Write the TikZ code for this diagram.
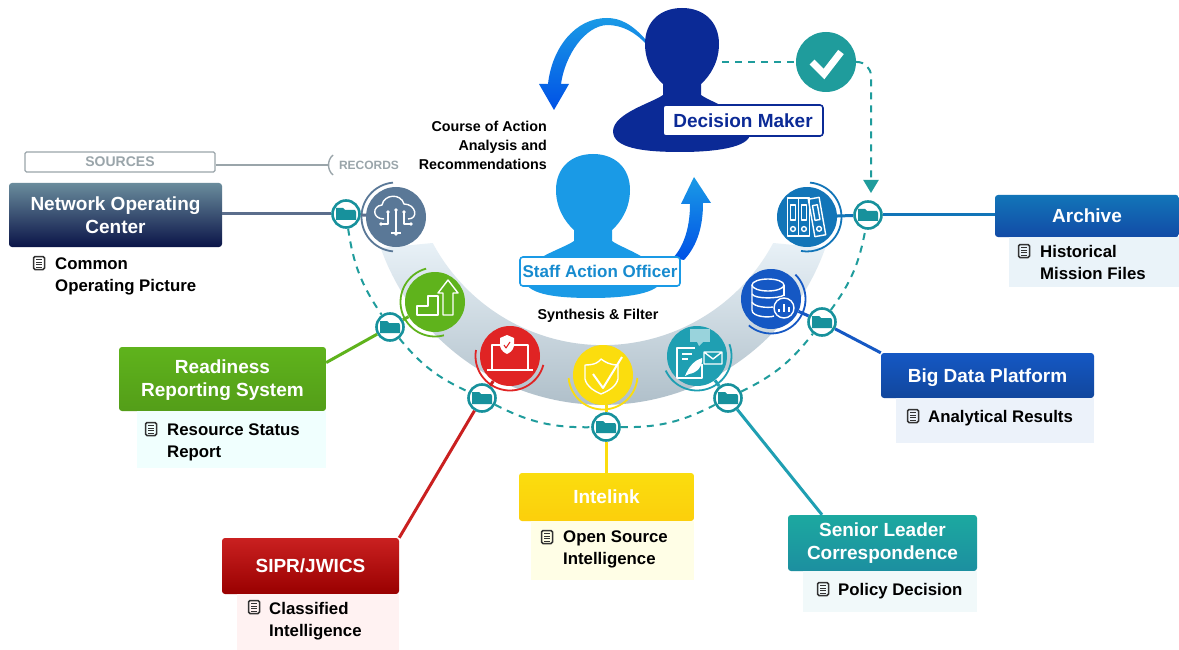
\documentclass[tikz,border=0pt]{standalone}
\usepackage{fontspec}
\setmainfont{Liberation Sans}
\usepackage{tikz}
\usetikzlibrary{arrows.meta,positioning,calc}

\definecolor{deciderblue}{HTML}{0B2A96}
\definecolor{staffblue}{HTML}{1A9AE6}
\definecolor{trailteal}{HTML}{1F9C9C}
\definecolor{ringteal}{HTML}{17919C}
\definecolor{cloudgray}{HTML}{5A7897}
\definecolor{nocline}{HTML}{5B6E8C}
\definecolor{greenicon}{HTML}{5FB31C}
\definecolor{redicon}{HTML}{E02424}
\definecolor{yellowicon}{HTML}{FBDD0E}
\definecolor{tealicon}{HTML}{1F9FB2}
\definecolor{dataicon}{HTML}{1558C4}
\definecolor{archiveicon}{HTML}{1275B8}
\definecolor{sourcegray}{HTML}{9AA5AA}
\definecolor{sweeptop}{HTML}{E8F1F7}
\definecolor{sweepmid}{HTML}{CBDBE3}
\definecolor{sweepend}{HTML}{A5B6C1}
\definecolor{noctop}{HTML}{6A8C9C}
\definecolor{nocmid}{HTML}{1E3A62}
\definecolor{nocend}{HTML}{0A1448}

\tikzset{
  folder/.pic={
    \fill[ringteal] (-10,-6) -- (-10,6) -- (-3,6) -- (-1,4) -- (9,4) -- (10,2) -- (10,-6) -- cycle;
  },
  docmark/.pic={
    \draw[black!80,line width=1.5pt,rounded corners=1.5pt] (-5.5,-6.5) rectangle (5.5,6.5);
    \draw[black!80,line width=1pt] (-3,3.5) -- (3,3.5) (-3,1) -- (3,1) (-3,-1.5) -- (3,-1.5) (-3,-4) -- (3,-4);
  },
  person/.pic={
    \path[pic actions] (-19,-76) .. controls (-28,-68) and (-37,-54) .. (-37,-36)
      .. controls (-37,-14) and (-22,0) .. (0,0) .. controls (22,0) and (37,-14) .. (37,-36)
      .. controls (37,-54) and (28,-68) .. (19,-76) -- (19,-87)
      .. controls (30,-95) and (66,-105) .. (68,-125) .. controls (69,-140) and (30,-144) .. (-1,-144)
      .. controls (-40,-144) and (-69,-140) .. (-69,-123) .. controls (-68,-105) and (-30,-95) .. (-19,-87) -- cycle;
  }
}

\begin{document}
\begin{tikzpicture}[x=1pt, y=1pt, line cap=butt]
\tikzstyle{header}=[rectangle, rounded corners=3pt, inner sep=0pt, align=center, text=white, font=\fontsize{19}{23}\selectfont\bfseries]
\tikzstyle{doctext}=[anchor=west, inner sep=0pt, align=left, font=\fontsize{16.8}{21.5}\selectfont\bfseries]
\tikzstyle{plainbold}=[inner sep=0pt, align=right, font=\fontsize{14.3}{19}\selectfont\bfseries]
\tikzstyle{nameplate}=[rectangle, rounded corners=3pt, fill=white, line width=1.6pt, inner sep=0pt]
\tikzstyle{icon}=[circle, minimum size=60pt, inner sep=0pt]
\tikzstyle{foldring}=[circle, draw=ringteal, fill=white, line width=2.6pt, minimum size=27pt, inner sep=0pt]
\tikzstyle{glyph}=[white, line width=1.4pt, line join=round]
\tikzstyle{trail}=[trailteal, line width=2pt, dash pattern=on 7pt off 6pt]
\tikzstyle{link}=[line width=3pt]
\useasboundingbox (0,0) rectangle (1179,-650);
\fill[white] (0,0) rectangle (1179,-650);

% sweep behind the icons
\shade[top color=sweeptop, middle color=sweepmid, bottom color=sweepend, shading angle=0]
  (380.7,-248) arc[start angle=199.6, end angle=340.4, radius=236]
  -- (773.2,-243) arc[start angle=331.9, end angle=208.1, radius=193] -- cycle;

% curved arrows
\shade[top color=staffblue, bottom color=blue!65!cyan!90!black]
  (646,-40) .. controls (632,-24) and (620,-18) .. (607,-18) .. controls (575,-18) and (552,-48) .. (548,-84)
  -- (539,-84) -- (554,-110) -- (569,-84) -- (561,-84) .. controls (565,-55) and (585,-26) .. (607,-25)
  .. controls (622,-25) and (635,-32) .. (646,-44) -- cycle;
\shade[top color=staffblue, bottom color=blue!65!cyan!90!black]
  (673,-258) .. controls (685,-245) and (690,-225) .. (690,-204) -- (681,-204) -- (694,-177) -- (711,-203)
  -- (703,-203) .. controls (703,-225) and (698,-245) .. (684,-260) -- cycle;

% people
\pic[fill=deciderblue] at (682,-8) {person};
\pic[fill=staffblue] at (593,-154) {person};
\node[nameplate, draw=deciderblue, minimum width=160pt, minimum height=31pt, text=deciderblue, font=\fontsize{19}{23}\selectfont\bfseries] (decider) at (743,-120.5) {Decision Maker};
\node[nameplate, draw=staffblue, minimum width=160pt, minimum height=29pt, text=staffblue!90!black, font=\fontsize{17}{21}\selectfont\bfseries] (staff) at (600,-271.5) {Staff Action Officer};
\node[plainbold, anchor=east] (coa) at (547,-145) {Course of Action\\Analysis and\\Recommendations};
\node[plainbold] (synth) at (598,-316) {Synthesis \& Filter};

% approval path
\coordinate (dmhead) at (722,-62);
\coordinate (dropend) at (871,-193);
\node[circle, fill=trailteal, minimum size=60pt, inner sep=0pt] (check) at (826,-62) {};
\draw[white, line width=7pt] (812,-62) -- (824,-74) -- (841,-52);
\draw[trail] (dmhead) -- (check);
\draw[trail, rounded corners=14pt, -{Triangle[width=15pt,length=13pt]}] (check.east) -| (dropend);

% sources header
\node[draw=sourcegray, line width=1.2pt, rounded corners=1.5pt, minimum width=190pt, minimum height=20pt, inner sep=0pt, text=sourcegray, font=\fontsize{14}{16}\selectfont\bfseries] (sources) at (120,-162) {SOURCES};
\node[inner sep=0pt, text=sourcegray, font=\fontsize{12}{14}\selectfont\bfseries] (records) at (369,-165) {RECORDS};
\coordinate (paren) at (328,-165);
\draw[sourcegray, line width=1.4pt] ($(paren)+(5,10)$) to[bend right=50] ($(paren)+(5,-10)$);
\draw[sourcegray, line width=1.4pt] (sources.east |- paren) -- (paren);

% source boxes
\node[header, top color=noctop, middle color=nocmid, bottom color=nocend, minimum width=213pt, minimum height=64pt] (noc) at (115.5,-215) {Network Operating\\Center};
\node[header, top color=greenicon, bottom color=greenicon!88!black, minimum width=207pt, minimum height=64pt, text depth=2pt] (ready) at (222.5,-379) {Readiness\\Reporting System};
\node[header, top color=redicon!90!black, bottom color=red!60!black, minimum width=177pt, minimum height=56pt] (sipr) at (310.5,-566) {SIPR/JWICS};
\node[header, top color=yellowicon, bottom color=yellowicon!85!orange, minimum width=175pt, minimum height=48pt] (intelink) at (606.5,-497) {Intelink};
\node[header, top color=tealicon!90!green, bottom color=tealicon!90!black, minimum width=189pt, minimum height=56pt] (senior) at (882.5,-543) {Senior Leader\\Correspondence};
\node[header, top color=dataicon, bottom color=dataicon!80!black, minimum width=213pt, minimum height=45pt, text depth=0pt] (bigdata) at (987.5,-375.5) {Big Data Platform};
\node[header, top color=archiveicon, bottom color=dataicon!85!black, minimum width=184pt, minimum height=42pt] (archive) at (1087,-216) {Archive};

% detail panels, under the text
\fill[greenicon!3!cyan!6] (137,-411) rectangle (326,-468);
\fill[red!5] (237,-594) rectangle (399,-650);
\fill[yellow!10] (531,-521) rectangle (694,-580);
\fill[tealicon!6] (803,-571) rectangle (977,-612);
\fill[dataicon!8] (896,-398) rectangle (1094,-443);
\fill[archiveicon!9] (1009,-237) rectangle (1179,-287);

\node[doctext] (noctext) at (55,-276.5) {Common\\Operating Picture};
\node[doctext] (readytext) at (167,-442.5) {Resource Status\\Report};
\node[doctext] (siprtext) at (269,-621) {Classified\\Intelligence};
\node[doctext] (inteltext) at (563,-549.5) {Open Source\\Intelligence};
\node[doctext] (seniortext) at (838,-591) {Policy Decision};
\node[doctext] (bigtext) at (928,-418) {Analytical Results};
\node[doctext] (archtext) at (1040,-262.5) {Historical\\Mission Files};
\foreach \px/\py in {39/-263, 151/-429, 254/-607, 547/-537, 823/-589, 913/-416, 1024/-251}
  \pic at (\px,\py) {docmark};

% icons
\node[icon, fill=cloudgray] (icon1) at (396,-217) {};
\node[icon, fill=greenicon] (icon2) at (435,-302) {};
\node[icon, fill=redicon] (icon3) at (510,-356) {};
\node[icon, fill=yellowicon] (icon4) at (603,-375) {};
\node[icon, fill=tealicon] (icon5) at (697,-356) {};
\node[icon, fill=dataicon] (icon6) at (771,-299) {};
\node[icon, fill=archiveicon] (icon7) at (807,-217) {};
\foreach \ic/\from/\to/\col in {icon1/95/265/cloudgray, icon2/105/285/greenicon, icon3/170/345/redicon,
    icon4/185/355/yellowicon, icon5/205/380/tealicon, icon6/45/-130/dataicon, icon7/85/-100/archiveicon}
  \draw[\col, line width=1.8pt] (\ic.center) ++(\from:34.5) arc[start angle=\from, end angle=\to, radius=34.5];

% folder stops
\node[foldring] (fold1) at (346,-214) {};
\node[foldring] (fold2) at (390,-327) {};
\node[foldring] (fold3) at (482,-398) {};
\node[foldring] (fold4) at (606,-427) {};
\node[foldring] (fold5) at (728,-398) {};
\node[foldring] (fold6) at (822,-322) {};
\node[foldring] (fold7) at (868,-215) {};
\foreach \fd in {fold1,fold2,fold3,fold4,fold5,fold6,fold7}
  \pic at (\fd) {folder};
\path[trail]
(fold1) edge[bend right=13] (fold2)
(fold2) edge[bend right=13] (fold3)
(fold3) edge[bend right=14] (fold4)
(fold4) edge[bend right=14] (fold5)
(fold5) edge[bend right=13] (fold6)
(fold6) edge[bend right=13] (fold7);

% links
\draw[link, nocline] (noc.east |- fold1) -- (fold1);
\draw[link, nocline] (fold1) -- (icon1);
\draw[link, greenicon] (ready.9) -- (fold2);
\draw[link, greenicon] (fold2) -- (icon2);
\draw[link, redicon!90!black] (sipr.north east) -- (fold3);
\draw[link, redicon!90!black] (fold3) -- (icon3);
\draw[link, yellowicon] (fold4) -- (fold4 |- intelink.north);
\draw[link, yellowicon] (fold4) -- (fold4 |- icon4.south);
\draw[link, tealicon] (fold5) -- (senior.155);
\draw[link, tealicon] (fold5) -- (icon5);
\draw[link, dataicon] (fold6) -- (bigdata.north west);
\draw[link, dataicon] (fold6) -- (icon6);
\draw[link, archiveicon] (fold7) -- (fold7 -| archive.west);
\draw[link, archiveicon] (fold7) -- (icon7);

% icon glyphs
\begin{scope}[shift={(icon1)}, glyph]
  \draw (-12,-2) .. controls (-24,-2) and (-24,11) .. (-14,12) .. controls (-12,23) and (5,24) .. (8,13) .. controls (20,13) and (23,-2) .. (12,-2);
  \draw (0,7) -- (0,-16) (-8,5) -- (-8,-7) -- (-15,-7) (8,5) -- (8,-7) -- (15,-7) (-5,-16) -- (5,-16);
  \foreach \dx/\dy in {0/7,-8/5,8/5,-15/-7,15/-7,0/-17}
    \fill[white] (\dx,\dy) circle (1.8);
\end{scope}
\begin{scope}[shift={(icon2)}, glyph]
  \draw (-18,-13) -- (-18,-4) -- (-7,-4) -- (-7,6) -- (3,6) -- (3,-13) -- cycle;
  \draw (8,-13) -- (8,9) -- (3,9) -- (13,22) -- (23,9) -- (18,9) -- (18,-13) -- cycle;
\end{scope}
\begin{scope}[shift={(icon3)}, glyph]
  \draw (-18,-13) -- (-18,11) -- (18,11) -- (18,-13);
  \draw[line width=2pt] (-23,-14) -- (23,-14);
  \fill[white] (-10,18) -- (-3,21) -- (4,18) -- (4,10) .. controls (3,5) and (-1,3) .. (-3,2) .. controls (-5,3) and (-9,5) .. (-10,10) -- cycle;
  \draw[redicon, line width=1pt] (-6,11) -- (-4,8) -- (0,14);
\end{scope}
\begin{scope}[shift={(icon4)}, glyph]
  \draw (-18,10) .. controls (-8,10) and (-4,13) .. (-2,16) .. controls (2,13) and (7,10) .. (15,10) -- (15,-4) .. controls (13,-12) and (5,-16) .. (-2,-19) .. controls (-9,-16) and (-16,-12) .. (-18,-4) -- cycle;
  \draw[line width=2pt] (-10,1) -- (0,-13) -- (19,18);
\end{scope}
\begin{scope}[shift={(icon5)}, glyph]
  \draw (5,-8) -- (5,-22) -- (-20,-22) -- (-20,8) -- (-2,8);
  \draw (-15,2) -- (-5,2) (-15,-3) -- (-9,-3);
  \fill[white] (-12,-20) .. controls (-8,-10) and (-2,-4) .. (5,-2) .. controls (6,-10) and (0,-17) .. (-8,-18) -- cycle;
  \draw (7,-8) rectangle (25,4) (7,4) -- (16,-3) -- (25,4);
  \fill[white, opacity=0.55] (-7,14) rectangle (13,27);
  \fill[white, opacity=0.55] (0,14) -- (6,14) -- (2,10) -- cycle;
\end{scope}
\begin{scope}[shift={(icon6)}, glyph]
  \draw (-3,14) ellipse (16 and 6);
  \draw (-19,14) -- (-19,-11) .. controls (-19,-18) and (-2,-19) .. (3,-17);
  \draw (13,14) -- (13,3);
  \draw (-19,5) .. controls (-17,0) and (8,0) .. (13,4);
  \draw (-19,-3) .. controls (-17,-8) and (-4,-9) .. (2,-8);
  \draw[fill=dataicon, line width=1.4pt] (13,-9) circle (10);
  \draw[line width=1.5pt] (8,-13) -- (8,-10) (13,-13) -- (13,-5) (18,-13) -- (18,-8);
\end{scope}
\begin{scope}[shift={(icon7)}, glyph]
  \foreach \bx/\tilt in {-14/0, -3/0, 10/10} {
    \begin{scope}[shift={(\bx,0)}, rotate=\tilt]
      \draw (-5.5,-19) rectangle (5.5,19);
      \draw (-2.5,-3) rectangle (2.5,12);
      \draw (0,-12) circle (2.4);
    \end{scope}
  }
\end{scope}

\end{tikzpicture}
\end{document}
